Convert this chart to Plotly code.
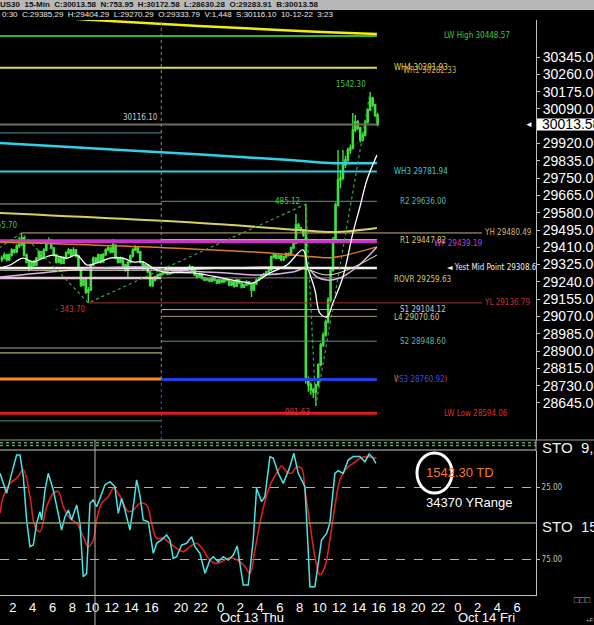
import plotly.graph_objects as go

# ---------------------------------------------------------------- data
# US30 15-min bars. Chart hours: Oct 12 00:00 = 0, the 17:00-18:00 break
# is squeezed out, so Oct 13 hour h sits at 23 + h.
oct12_first_open = 29350
oct12_close = [
    29357, 29372, 29348, 29372, 29397, 29387, 29416, 29421, 29456, 29372,
    29338, 29308, 29338, 29323, 29357, 29387, 29357, 29397, 29431, 29446,
    29407, 29372, 29338, 29357, 29333, 29357, 29382, 29397, 29372, 29397,
    29367, 29308, 29225, 29249, 29190, 29200, 29323, 29357, 29338, 29372,
    29338, 29372, 29397, 29407, 29387, 29421, 29357, 29338, 29357, 29323,
    29298, 29338, 29367, 29397, 29407, 29387, 29338, 29308, 29323, 29289,
    29225, 29249, 29264, 29274, 29279,
]
oct12_high = [
    29370, 29385, 29378, 29380, 29405, 29402, 29425, 29462, 29480.49, 29462,
    29380, 29345, 29345, 29348, 29362, 29395, 29392, 29405, 29440, 29458,
    29450, 29412, 29378, 29365, 29362, 29365, 29390, 29408, 29402, 29410,
    29402, 29372, 29312, 29262, 29255, 29215, 29330, 29365, 29362, 29380,
    29378, 29382, 29405, 29418, 29412, 29452, 29425, 29362, 29365, 29360,
    29328, 29342, 29375, 29405, 29420, 29412, 29392, 29342, 29330, 29328,
    29292, 29255, 29270, 29280, 29286,
]
oct12_low = [
    29338, 29350, 29340, 29343, 29365, 29378, 29382, 29405, 29415, 29365,
    29330, 29292, 29300, 29315, 29318, 29350, 29350, 29352, 29390, 29425,
    29400, 29365, 29330, 29332, 29325, 29328, 29350, 29375, 29365, 29368,
    29360, 29300, 29215, 29218, 29180, 29136.79, 29195, 29318, 29330, 29332,
    29330, 29335, 29368, 29390, 29380, 29382, 29350, 29330, 29332, 29315,
    29290, 29264, 29332, 29360, 29392, 29380, 29330, 29300, 29302, 29282,
    29215, 29215, 29242, 29258, 29268,
]
oct13_close = [
    29284, 29289, 29279, 29284, 29289, 29298, 29289, 29294, 29303, 29298,
    29308, 29313, 29298, 29274, 29264, 29279, 29259, 29249, 29254, 29244,
    29259, 29249, 29235, 29249, 29240, 29254, 29249, 29225, 29240, 29220,
    29249, 29235, 29215, 29225, 29240, 29230, 29200, 29230, 29249, 29259,
    29269, 29279, 29289, 29298, 29362, 29372, 29357, 29367, 29348, 29362,
    29377, 29372, 29407, 29431, 29520, 29505, 29495, 29470, 28758, 28733,
    28709, 28699, 28733, 28832, 28930, 28979, 29043, 29151, 29298, 29446,
    29618, 29741, 29750, 29814, 29839, 29888, 29898, 29986, 30026, 29996,
    29937, 29962, 30026, 30085, 30143, 30109, 30060, 30013.58,
]
oct13_high = [
    29292, 29295, 29293, 29290, 29296, 29305, 29302, 29300, 29310, 29308,
    29315, 29325, 29318, 29302, 29278, 29285, 29282, 29262, 29260, 29258,
    29265, 29262, 29252, 29255, 29252, 29260, 29258, 29252, 29246, 29244,
    29256, 29252, 29238, 29232, 29248, 29244, 29234, 29236, 29255, 29265,
    29275, 29285, 29295, 29306, 29370, 29380, 29378, 29374, 29372, 29368,
    29384, 29385, 29414, 29440, 29574, 29530, 29512, 29500, 29621.91, 28775,
    28745, 28720, 28740, 28840, 28940, 28992, 29055, 29165, 29310, 29460,
    29630, 29888, 29790, 29888, 29860, 29900, 29915, 30070, 30060, 30035,
    30002, 29975, 30035, 30095, 30172.58, 30150, 30115, 30070,
]
oct13_low = [
    29272, 29278, 29274, 29275, 29280, 29285, 29282, 29285, 29290, 29292,
    29295, 29303, 29292, 29268, 29258, 29260, 29252, 29243, 29245, 29238,
    29240, 29243, 29228, 29230, 29235, 29236, 29242, 29218, 29220, 29212,
    29215, 29228, 29208, 29210, 29220, 29222, 29166, 29195, 29226, 29244,
    29254, 29264, 29274, 29284, 29294, 29355, 29350, 29352, 29342, 29343,
    29356, 29365, 29368, 29400, 29425, 29498, 29486, 29462, 28740, 28700,
    28685, 28670, 28630.28, 28725, 28825, 28920, 28970, 29035, 29140, 29290,
    29440, 29610, 29700, 29740, 29800, 29830, 29870, 29890, 29975, 29985,
    29925, 29930, 29955, 30020, 30080, 30098, 30050, 30005,
]
oct12_start_hour = 0.75
oct13_start_hour = 17.0
bar_hours = 0.25

# moving averages, read as (chart hour, price)
ma_yellow_t = [0.69, 11.8, 31.0, 38.81]
ma_yellow = [30560, 30522, 30473, 30458]
ma_cyan_t = [0.69, 16.0, 30.0, 34.0, 38.81]
ma_cyan = [29922, 29880, 29839, 29824, 29824]
ma_khaki_t = [0.69, 20.9, 31.0, 34.4, 38.81]
ma_khaki = [29578, 29529, 29495, 29485, 29505]
ma_orange_t = [0.69, 17.9, 28.0, 32.7, 34.4, 38.81]
ma_orange = [29436, 29407, 29382, 29362, 29360, 29412]
ma_fast_t = [0.69, 1.70, 3.01, 4.02, 5.04, 6.05, 7.46, 8.47, 9.48, 10.5,
             11.81, 13.13, 14.14, 15.15, 16.16, 17.17, 20.2, 25.26, 26.27, 27.99,
             29.71, 31.32, 31.83, 32.54, 33.04, 33.75, 34.36, 35.37, 36.38, 37.09,
             37.8, 38.81]
ma_fast = [29308, 29323, 29357, 29338, 29357, 29372, 29357, 29372, 29323, 29333,
           29357, 29357, 29338, 29338, 29308, 29289, 29284, 29240, 29235, 29284,
           29323, 29397, 29308, 29200, 29087, 29068, 29136, 29264, 29480, 29608,
           29741, 29863]
ma_lav_t = [0.69, 5.74, 10.8, 14.84, 17.88, 23.64, 26.98, 30.31, 31.73, 32.74,
            33.75, 35.07, 36.78, 38.81]
ma_lav = [29264, 29289, 29308, 29313, 29298, 29284, 29274, 29289, 29308, 29264,
          29249, 29259, 29313, 29412]
ma_cream_t = [0.69, 16.87, 31.02, 33.75, 35.77, 38.81]
ma_cream = [29298, 29298, 29308, 29274, 29298, 29372]

# zigzag swing pivots
zz_t = [-11.5, 2.875, 9.625, 31.625, 32.625, 38.125]
zz_p = [29014.79, 29480.49, 29136.79, 29621.91, 28630.28, 30172.58]

# levels drawn across both sessions
week_names = ["LW High", "WH4", "WH3", "WP", "Yest Mid Point", "LW Low"]
week_prices = [30448.57, 30291.93, 29781.94, 29439.19, 29308.64, 28594.06]
last_price = 30013.58
# Oct 12 session pivots (unlabelled on the chart)
oct12_levels = [29972, 29623, 29259, 28915, 28891, 28763, 28557]
# Oct 13 session pivots
oct13_names = ["R2", "R1", "ROVR", "S1", "L4", "S2", "S3"]
oct13_prices = [29636.00, 29447.82, 29259.63, 29104.12, 29070.60, 28948.60, 28760.92]
yest_high = 29480.49
yest_low = 29136.79

# stochastic, read as (chart hour, value) on the panel's own scale
k_t = [0.69, 1.36, 1.87, 2.37, 2.71, 3.05, 3.38, 3.72, 4.06, 4.39,
       4.73, 4.9, 5.24, 5.57, 6.08, 6.59, 6.92, 7.26, 7.6, 7.93,
       8.44, 8.78, 9.11, 9.45, 9.79, 10.12, 10.46, 10.8, 11.3, 11.81,
       12.31, 12.65, 12.99, 13.33, 13.83, 14.17, 14.51, 14.84, 15.18, 15.69,
       16.19, 16.53, 17.03, 17.54, 17.88, 18.21, 18.55, 19.06, 19.56, 20.07,
       20.4, 20.91, 21.42, 21.92, 22.26, 22.76, 23.27, 23.78, 24.28, 24.68,
       24.95, 25.29, 25.8, 26.3, 26.64, 27.15, 27.48, 27.99, 28.33, 28.83,
       29.34, 29.67, 30.01, 30.41, 30.85, 31.19, 31.53, 31.86, 32.03, 32.54,
       33.21, 33.72, 34.05, 34.56, 34.9, 35.4, 35.91, 36.41, 37.09, 37.59,
       38.03, 38.43, 38.7]
k_vals = [15.5, 29.4, 15.5, 2.8, 2.8, 17.8, 47.9, 66.4, 65.3, 50.2,
          42.1, 47.9, 27.1, 15.5, 27.1, 43.3, 54.9, 45.6, 41.0, 47.9,
          37.5, 50.2, 87.3, 85.0, 36.3, 34.0, 38.7, 32.9, 23.6, 21.3,
          24.8, 43.3, 32.9, 41.0, 54.9, 38.7, 20.1, 30.6, 47.9, 49.1,
          71.1, 64.1, 61.8, 58.3, 61.8, 74.5, 73.4, 65.3, 64.1, 59.5,
          66.4, 71.1, 85.0, 75.7, 73.4, 76.9, 73.4, 75.7, 72.2, 66.0,
          78.0, 93.1, 93.1, 61.8, 25.9, 35.2, 31.7, 3.9, 5.1, 15.5,
          22.5, 16.7, 10.9, 1.6, 15.5, 20.1, 24.8, 68.8, 94.2, 94.2,
          61.8, 57.2, 50.2, 15.5, 13.7, 15.5, 6.3, 3.9, 3.9, 7.4,
          2.1, 5.1, 8.6]
d_t = [0.69, 1.02, 1.7, 2.37, 3.05, 3.72, 4.23, 4.73, 5.41, 6.08,
       6.59, 7.09, 7.77, 8.44, 9.11, 9.62, 10.12, 10.46, 10.97, 11.64,
       12.15, 12.65, 13.16, 13.66, 14.17, 14.84, 15.52, 16.02, 16.53, 17.2,
       17.88, 18.55, 19.23, 19.9, 20.57, 21.25, 21.75, 22.43, 23.1, 23.78,
       24.28, 24.95, 25.46, 25.97, 26.47, 26.98, 27.48, 28.16, 28.66, 29.17,
       29.67, 30.18, 30.68, 31.19, 31.53, 32.03, 32.54, 33.04, 33.55, 34.05,
       34.56, 35.07, 35.74, 36.41, 37.09, 37.76, 38.77]
d_vals = [43.3, 31.7, 22.5, 19.0, 13.2, 31.7, 52.5, 56.0, 38.7, 29.4,
          28.2, 38.7, 46.8, 50.2, 59.5, 66.4, 61.8, 47.9, 36.3, 31.7,
          25.9, 29.4, 36.3, 42.1, 41.0, 36.3, 37.5, 50.2, 60.6, 60.6,
          64.1, 67.6, 69.9, 66.4, 64.1, 68.8, 74.5, 78.0, 76.9, 74.5,
          74.5, 76.9, 80.3, 85.0, 68.8, 50.2, 35.2, 21.3, 15.5, 10.4,
          14.4, 15.5, 10.9, 12.0, 27.1, 50.2, 73.4, 86.1, 80.3, 61.8,
          38.7, 20.1, 12.0, 8.6, 5.1, 3.9, 5.1]

# axes
price_ticks = [28645, 28730, 28815, 28900, 28985, 29070, 29155, 29240, 29325, 29410,
               29495, 29580, 29665, 29750, 29835, 29920, 30090, 30175, 30260, 30345]
hour_ticks = [2, 4, 6, 8, 10, 12, 14, 16, 19, 21, 23, 25, 27, 29, 31, 33, 35,
              37, 39, 41, 43, 45, 47, 49, 51, 53]
hour_labels = ["2", "4", "6", "8", "10", "12", "14", "16", "20", "22", "0", "2",
               "4", "6", "8", "10", "12", "14", "16", "18", "20", "22", "0", "2",
               "4", "6"]
day_labels = ["Oct 13 Thu", "Oct 14 Fri"]
day_label_hours = [26.2, 49.9]
header_1 = "US30  15-Min  C:30013.58  N:753.95  H:30172.58  L:28630.28  O:29283.91  B:30013.58"
header_2 = "0:30  C:29385.29  H:29404.29  L:29270.29  O:29333.79  V:1,448  S:30116.10  10-12-22  3:23"
today_range = "1542.30 TD"
year_range = "34370 YRange"

# ---------------------------------------------------------------- layout helpers
W, H = 594, 625
PLOT_W, PLOT_TOP, PLOT_BOTTOM = 536, 20, 595
X_RANGE = [0.69, 54.9]
Y_RANGE = [28463, 30527]
SESSION_END = 38.81
BG = "#000000"
LABEL_FONT = "DejaVu Sans Condensed, Liberation Sans Narrow, Liberation Sans"
AXIS_FONT = "Liberation Sans, Arial"


def px_x(px):
    return px / PLOT_W


def px_y(py):
    return (PLOT_BOTTOM - py) / (PLOT_BOTTOM - PLOT_TOP)


def px_t(px):
    return X_RANGE[0] + px / PLOT_W * (X_RANGE[1] - X_RANGE[0])


def bar_times(start, n):
    return [start + bar_hours * i + bar_hours / 2 for i in range(n)]


def hline(fig, t0, t1, price, color, width, dash="solid"):
    fig.add_trace(go.Scatter(
        x=[t0, t1], y=[price, price], mode="lines",
        line=dict(color=color, width=width, dash=dash),
        hoverinfo="skip", showlegend=False,
    ))


def ma_line(fig, t, p, color, width):
    fig.add_trace(go.Scatter(
        x=t, y=p, mode="lines", line=dict(color=color, width=width, shape="spline"),
        hoverinfo="skip", showlegend=False,
    ))


fig = go.Figure()

# ---------------------------------------------------------------- levels
week_style = {
    "LW High": ("#2fb82f", 2),
    "WH4": ("#e6de3c", 2),
    "WH3": ("#2ccbe0", 2),
    "WP": ("#c832c8", 4),
    "Yest Mid Point": ("#f2f2f2", 2.5),
    "LW Low": ("#e01c1c", 3),
}
for name, price in zip(week_names, week_prices):
    color, width = week_style[name]
    hline(fig, X_RANGE[0], SESSION_END, price, color, width)
hline(fig, X_RANGE[0], SESSION_END, last_price, "#6e6e52", 2)

oct12_style = [("#4f9494", 1), ("#a8a098", 1), ("#e6c8d8", 2.5), ("#a0a0a0", 1),
               ("#d8d8a0", 1), ("#ff8c1a", 3), ("#4f8f88", 1)]
for price, (color, width) in zip(oct12_levels, oct12_style):
    hline(fig, X_RANGE[0], oct13_start_hour, price, color, width)

oct13_style = {
    "R2": ("#4a9a9a", 1), "R1": ("#c8b870", 1), "ROVR": ("#8a8a7a", 1),
    "S1": ("#b4b4b4", 1), "L4": ("#a89868", 1), "S2": ("#4a9a9a", 1),
    "S3": ("#1f3fe6", 3),
}
for name, price in zip(oct13_names, oct13_prices):
    color, width = oct13_style[name]
    hline(fig, oct13_start_hour, SESSION_END, price, color, width)

x12 = bar_times(oct12_start_hour, len(oct12_close))
x13 = bar_times(oct13_start_hour, len(oct13_close))
yh_t = x12[oct12_high.index(yest_high)]
yl_t = x12[oct12_low.index(yest_low)]
hline(fig, yh_t, px_t(482), yest_high, "#c8b07a", 1)
hline(fig, yl_t, px_t(482), yest_low, "#a83030", 1)

# ---------------------------------------------------------------- averages
ma_line(fig, ma_yellow_t, ma_yellow, "#f0ee10", 2.5)
ma_line(fig, ma_cyan_t, ma_cyan, "#2ed2e6", 2.5)
ma_line(fig, ma_khaki_t, ma_khaki, "#d8d060", 2)
ma_line(fig, ma_orange_t, ma_orange, "#e07a24", 1.5)
ma_line(fig, ma_lav_t, ma_lav, "#d8b4e6", 1.5)
ma_line(fig, ma_cream_t, ma_cream, "#f0e8c0", 1)
ma_line(fig, ma_fast_t, ma_fast, "#ffffff", 1.3)

# ---------------------------------------------------------------- candles
opens = [oct12_first_open] + oct12_close[:-1] + [oct12_close[-1]] + oct13_close[:-1]
fig.add_trace(go.Candlestick(
    x=x12 + x13,
    open=opens,
    high=oct12_high + oct13_high,
    low=oct12_low + oct13_low,
    close=oct12_close + oct13_close,
    increasing=dict(line=dict(color="#3ee03e", width=1.4), fillcolor="#1d9a1d"),
    decreasing=dict(line=dict(color="#3ee03e", width=1.4), fillcolor="#a8f4a8"),
    whiskerwidth=0, showlegend=False, hoverinfo="skip",
))

# zigzag
fig.add_trace(go.Scatter(
    x=zz_t, y=zz_p, mode="lines",
    line=dict(color="#3ca83c", width=1.2, dash="dot"),
    hoverinfo="skip", showlegend=False,
))

# ---------------------------------------------------------------- stochastic
fig.add_trace(go.Scatter(
    x=d_t, y=d_vals, yaxis="y2", mode="lines",
    line=dict(color="#e01e1e", width=1.6, shape="spline"),
    hoverinfo="skip", showlegend=False,
))
fig.add_trace(go.Scatter(
    x=k_t, y=k_vals, yaxis="y2", mode="lines",
    line=dict(color="#46e6e6", width=1.5),
    hoverinfo="skip", showlegend=False,
))

# clipped label on the mid-point line
fig.add_trace(go.Scatter(
    x=[px_t(447)], y=[week_prices[4]], mode="text",
    text=["\u25c4 Yest Mid Point %.2f" % week_prices[4]],
    textposition="middle right", cliponaxis=True,
    textfont=dict(family=LABEL_FONT, size=8, color="#f0f0f0"),
    hoverinfo="skip", showlegend=False,
))

# ---------------------------------------------------------------- annotations
ann = []


def label(text, px, price, color, dy=0, bg=None):
    ann.append(dict(
        text=text, xref="paper", yref="y", x=px_x(px), y=price, yshift=dy,
        xanchor="left", yanchor="middle", showarrow=False,
        font=dict(family=LABEL_FONT, size=8, color=color),
        bgcolor=bg, borderpad=0,
    ))


label("LW High %.2f" % week_prices[0], 443, week_prices[0], "#3cc83c")
label("WH4 %.2f" % week_prices[1], 393, week_prices[1], "#e0d850")
label("WR1 30282.33", 402, week_prices[1], "#d8a040", dy=-3)
label("WH3 %.2f" % week_prices[2], 393, week_prices[2], "#3cc8d8")
label("R2 %.2f" % oct13_prices[0], 399, oct13_prices[0], "#5ab4b4")
label("YH %.2f" % yest_high, 483, yest_high, "#d2b478")
label("R1 %.2f" % oct13_prices[1], 399, oct13_prices[1], "#d8c878", dy=-1)
label("WP %.2f" % week_prices[3], 433, week_prices[3], "#c83cd8", dy=-2)
label("ROVR %.2f" % oct13_prices[2], 393, oct13_prices[2], "#d8c878", dy=-2)
label("YL %.2f" % yest_low, 483, yest_low, "#c83232")
label("S1 %.2f" % oct13_prices[3], 399, oct13_prices[3], "#c8c8c8")
label("L4 %.2f" % oct13_prices[4], 393, oct13_prices[4], "#d8c878", dy=-1)
label("S2 %.2f" % oct13_prices[5], 399, oct13_prices[5], "#5ab4b4")
label("WS3 28763.00", 393, oct13_prices[6], "#e8782c")
label("S3 %.2f" % oct13_prices[6], 398, oct13_prices[6], "#3050e6", bg=BG)
label("LW Low %.2f" % week_prices[5], 443, week_prices[5], "#e02828")

# swing sizes along the zigzag
swing_offsets = [(-2, 7), (-1, -7), (-4, 3), (-4, -7), (-2, 8)]
for i, (dx, dy) in enumerate(swing_offsets, start=1):
    move = zz_p[i] - zz_p[i - 1]
    up = move > 0
    ann.append(dict(
        text=("%.2f" % move) if up else ("- %.2f" % -move),
        x=zz_t[i], y=zz_p[i], xref="x", yref="y", xanchor="right",
        yanchor="middle", xshift=dx, yshift=dy, showarrow=False,
        font=dict(family=LABEL_FONT, size=8, color="#3cc83c" if up else "#d83030"),
    ))

ann.append(dict(text="30116.10", xref="paper", yref="paper", x=px_x(121),
                y=px_y(111), showarrow=False,
                font=dict(family=LABEL_FONT, size=8, color="#c8c8c8")))

# header rows
ann.append(dict(text="<b>" + header_1 + "</b>", xref="paper", yref="paper",
                x=px_x(-2), y=px_y(4.5), xanchor="left", yanchor="middle",
                showarrow=False, font=dict(family=AXIS_FONT, size=8, color="#111111")))
ann.append(dict(text=header_2, xref="paper", yref="paper", x=0, y=px_y(14.5),
                xanchor="left", yanchor="middle", showarrow=False,
                font=dict(family=AXIS_FONT, size=8, color="#e8e8e8")))

# last price box on the axis
ann.append(dict(text="%.2f" % last_price, xref="paper", yref="y", x=px_x(540),
                y=last_price, xanchor="left", yanchor="middle", showarrow=False,
                font=dict(family=AXIS_FONT, size=14, color="#000000")))
ann.append(dict(text="\u25c4", xref="paper", yref="y", x=px_x(535), y=last_price,
                xanchor="right", yanchor="middle", showarrow=False,
                font=dict(family=AXIS_FONT, size=8, color="#ffffff")))

# panel captions
for text, py in [("STO  9,3", 447), ("STO  15,2", 526)]:
    ann.append(dict(text=text, xref="paper", yref="paper", x=px_x(540), y=px_y(py),
                    xanchor="left", yanchor="middle", showarrow=False,
                    font=dict(family=AXIS_FONT, size=15, color="#f0f0f0")))

ann.append(dict(text=today_range, xref="paper", yref="paper", x=px_x(424),
                y=px_y(473), xanchor="left", yanchor="middle", showarrow=False,
                font=dict(family=AXIS_FONT, size=13, color="#f07828")))
ann.append(dict(text=year_range, xref="paper", yref="paper", x=px_x(424),
                y=px_y(502), xanchor="left", yanchor="middle", showarrow=False,
                font=dict(family=AXIS_FONT, size=13, color="#ffffff")))

for text, t in zip(day_labels, day_label_hours):
    ann.append(dict(text=text, xref="x", yref="paper", x=t, y=px_y(617),
                    xanchor="center", yanchor="middle", showarrow=False,
                    font=dict(family=AXIS_FONT, size=13, color="#ffffff")))

ann.append(dict(text="\u25a1\u25a1\u25a1", xref="paper", yref="paper", x=px_x(572),
                y=px_y(600), xanchor="left", yanchor="middle", showarrow=False,
                font=dict(family=AXIS_FONT, size=9, color="#bbbbbb")))
ann.append(dict(text="+F", xref="paper", yref="paper", x=px_x(584), y=px_y(620),
                xanchor="left", yanchor="middle", showarrow=False,
                font=dict(family=AXIS_FONT, size=6, color="#bbbbbb")))

# ---------------------------------------------------------------- shapes
right_edge = px_x(W)
shapes = [
    # header band
    dict(type="rect", xref="paper", yref="paper", x0=px_x(0), x1=right_edge,
         y0=px_y(10), y1=px_y(0), fillcolor="#b8b8b8", line=dict(width=0), layer="below"),
    # session break
    dict(type="line", xref="x", yref="y", x0=oct13_start_hour, x1=oct13_start_hour,
         y0=oct12_levels[5], y1=Y_RANGE[1], line=dict(color="#8c8c8c", width=1, dash="dot")),
    dict(type="line", xref="x", yref="y", x0=oct13_start_hour, x1=oct13_start_hour,
         y0=Y_RANGE[0], y1=oct12_levels[5], line=dict(color="#3050e6", width=1, dash="dot")),
    # cursor line through the lower panel
    dict(type="line", xref="x", yref="paper", x0=px_t(95), x1=px_t(95),
         y0=px_y(625), y1=px_y(440), line=dict(color="#b4b4b4", width=1)),
    # panel separators
    dict(type="line", xref="paper", yref="paper", x0=0, x1=right_edge,
         y0=px_y(440), y1=px_y(440), line=dict(color="#9a9a9a", width=1)),
    dict(type="line", xref="paper", yref="paper", x0=0, x1=1,
         y0=px_y(442.7), y1=px_y(442.7), line=dict(color="#5f9a5f", width=1.5, dash="dot")),
    dict(type="line", xref="paper", yref="paper", x0=0, x1=1,
         y0=px_y(445.5), y1=px_y(445.5), line=dict(color="#5f9a5f", width=1.5, dash="dot")),
    dict(type="line", xref="paper", yref="paper", x0=0, x1=1,
         y0=px_y(450), y1=px_y(450), line=dict(color="#c8c8c8", width=1)),
    dict(type="line", xref="paper", yref="paper", x0=1, x1=1,
         y0=px_y(451), y1=px_y(440), line=dict(color="#c0c0c0", width=1)),
    # stochastic midline
    dict(type="line", xref="paper", yref="y2", x0=0, x1=1, y0=50, y1=50,
         line=dict(color="#8c9c64", width=1.5)),
    # last price box
    dict(type="rect", xref="paper", yref="y", x0=px_x(537), x1=right_edge,
         y0=last_price - 29, y1=last_price + 29, fillcolor="#ffffff", line=dict(width=0)),
    # range circle
    dict(type="circle", xref="paper", yref="paper", x0=px_x(417), x1=px_x(452),
         y0=px_y(493), y1=px_y(453), line=dict(color="#ffffff", width=3)),
]

fig.update_layout(
    width=W, height=H,
    paper_bgcolor=BG, plot_bgcolor=BG,
    margin=dict(l=0, r=W - PLOT_W, t=PLOT_TOP, b=H - PLOT_BOTTOM, autoexpand=False),
    showlegend=False,
    hovermode=False,
    xaxis=dict(
        domain=[0, 1], range=X_RANGE, anchor="y2",
        tickvals=hour_ticks, ticktext=hour_labels,
        tickfont=dict(family=AXIS_FONT, size=13, color="#ffffff"),
        ticks="", showgrid=False, zeroline=False,
        showline=True, linecolor="#c0c0c0", linewidth=1,
        rangeslider=dict(visible=False), automargin=False,
    ),
    yaxis=dict(
        domain=[px_y(440), 1], range=Y_RANGE, side="right",
        tickvals=price_ticks, ticktext=["%.2f" % v for v in price_ticks],
        tickfont=dict(family=AXIS_FONT, size=14, color="#ffffff"),
        ticks="outside", ticklen=3, tickcolor="#c0c0c0",
        showline=True, linecolor="#c0c0c0", linewidth=1,
        showgrid=False, zeroline=False, automargin=False,
    ),
    yaxis2=dict(
        domain=[0, px_y(451)], range=[100, 0], side="right", anchor="x",
        tickvals=[25, 75], ticktext=["25.00", "75.00"],
        tickfont=dict(family=LABEL_FONT, size=8, color="#c0c0c0"),
        ticks="outside", ticklen=3, tickcolor="#c0c0c0",
        showline=True, linecolor="#c0c0c0", linewidth=1,
        showgrid=True, gridcolor="#b0b0b0", griddash="dash", gridwidth=1,
        zeroline=False, automargin=False,
    ),
    annotations=ann,
    shapes=shapes,
)

# the page's default body margin would shift the whole chart by 8px
fig.write_html(
    "out.html",
    config={"displayModeBar": False},
    post_script="document.body.style.margin='0';document.body.style.background='#000';",
)
